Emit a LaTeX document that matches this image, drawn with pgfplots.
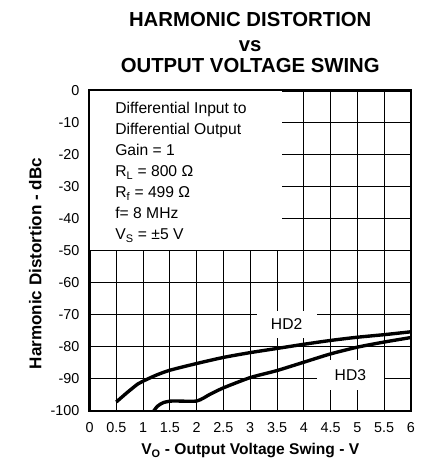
\documentclass[border=0pt]{standalone}
\usepackage{fontspec}
\setmainfont{Liberation Sans}
\usepackage{pgfplots}
\pgfplotsset{compat=1.18}

\pgfplotsset{
  layers/boxed/.define layer set={
    axis background,axis grid,boxlayer,axis ticks,axis lines,
    axis tick labels,main,axis descriptions,axis foreground}{},
}

\begin{document}
\begin{tikzpicture}
\begin{axis}[
  set layers=boxed,
  scale only axis,
  width=323bp, height=322bp,
  xmin=0, xmax=6, ymin=-100, ymax=0,
  xtick={0,0.5,...,6},
  ytick={-100,-90,...,0},
  grid=major,
  major grid style={line width=0.8bp, black},
  axis line style={line width=2.8bp},
  tick style={line width=0.8bp, black},
  major tick length=6bp,
  tick align=inside,
  tick pos=both,
  /pgf/number format/assume math mode=true,
  ticklabel style={font=\fontsize{14.5}{16}\selectfont},
  xticklabel style={anchor=base, inner sep=0pt, yshift=-22bp},
  yticklabel style={anchor=east, inner sep=0pt, xshift=-10bp},
  xlabel={V\textsubscript{O} - Output Voltage Swing - V},
  ylabel={Harmonic Distortion - dBc},
  every axis x label/.style={at={(axis description cs:0.5,0)}, anchor=base,
    yshift=-43.7bp, font=\fontsize{15.7}{18}\selectfont\bfseries},
  every axis y label/.style={at={(axis description cs:0,0.46)}, rotate=90,
    anchor=base, yshift=48.3bp, font=\fontsize{17.2}{19}\selectfont\bfseries},
]
% white panel behind the conditions text
\fill[white, on layer=boxlayer] (axis cs:0,0) rectangle (axis cs:3.59,-49.7);
\node[on layer=boxlayer, fill=white, inner sep=0pt, minimum width=60bp,
  minimum height=27bp, font=\fontsize{15.8}{18}\selectfont]
  at (axis cs:3.68,-73) {HD2};
\node[on layer=boxlayer, fill=white, inner sep=0pt, minimum width=67bp,
  minimum height=30bp, font=\fontsize{15.8}{18}\selectfont]
  at (axis cs:4.87,-88.8) {HD3};

% HD2
\addplot[black, line width=3.4bp, smooth, tension=0.4] coordinates {
  (0.5,-97.2) (0.7,-94.3) (0.9,-91.6) (1,-90.7) (1.25,-88.8) (1.5,-87.3)
  (2,-85.2) (2.5,-83.3) (3,-81.8) (3.5,-80.5) (4,-79.2) (4.5,-78)
  (5,-77) (5.5,-76.2) (6,-75.3)
};
% HD3
\addplot[black, line width=3.4bp, smooth, tension=0.4] coordinates {
  (1.2,-100) (1.27,-98.5) (1.38,-97.4) (1.55,-96.9) (2,-96.9)
  (2.25,-94.8) (2.5,-92.8) (3,-89.6) (3.5,-87.4) (4,-84.8) (4.5,-82.2)
  (5,-80.1) (5.5,-78.5) (6,-77.1)
};
\end{axis}

% title
\begin{scope}[every node/.style={font=\fontsize{20.5}{23}\selectfont\bfseries, inner sep=0pt, anchor=base}]
\node at (161.5bp,386bp) {HARMONIC DISTORTION};
\node at (161.5bp,361.3bp) {vs};
\node at (161.5bp,340.3bp) {OUTPUT VOLTAGE SWING};
\end{scope}

% test conditions
\begin{scope}[every node/.style={font=\fontsize{15.8}{18}\selectfont, inner sep=0pt, anchor=base west}]
\node at (25.7bp,298.7bp) {Differential Input to};
\node at (25.7bp,277.6bp) {Differential Output};
\node at (25.7bp,256.5bp) {Gain = 1};
\node at (25.7bp,235.4bp) {R\textsubscript{L} = 800 Ω};
\node at (25.7bp,214.3bp) {R\textsubscript{f} = 499 Ω};
\node at (25.7bp,193.2bp) {f= 8 MHz};
\node at (25.7bp,172.1bp) {V\textsubscript{S} = ±5 V};
\end{scope}
\path (-90bp,-48bp) rectangle (348bp,413bp);
\end{tikzpicture}
\end{document}
